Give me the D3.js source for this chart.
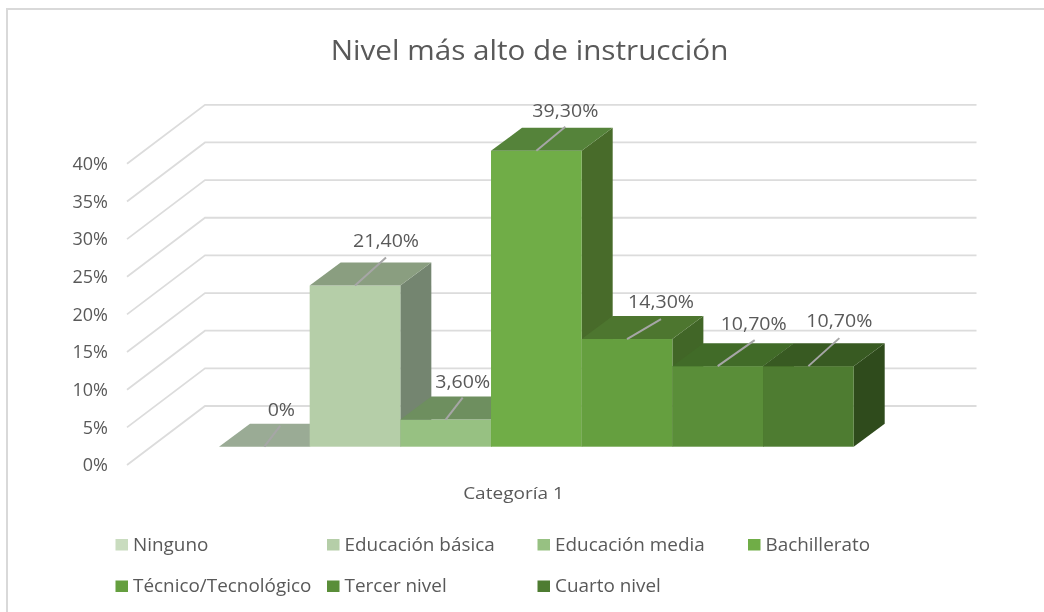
<!DOCTYPE html>
<html><head><meta charset="utf-8">
<script src="https://cdn.jsdelivr.net/npm/d3@7/dist/d3.min.js"></script>
<style>html,body{margin:0;padding:0;background:#fff}svg{display:block;filter:blur(0.35px)}
text{font-family:"Open Sans","Noto Sans",sans-serif;fill:#595959}</style>
</head><body><svg id="c" width="1044" height="612"></svg>
<script>
const title = "Nivel más alto de instrucción";
const category = "Categoría 1";
const series = ["Ninguno","Educación básica","Educación media","Bachillerato","Técnico/Tecnológico","Tercer nivel","Cuarto nivel"];
const values = [0,21.4,3.6,39.3,14.3,10.7,10.7];
const valueLabels = ["0%","21,40%","3,60%","39,30%","14,30%","10,70%","10,70%"];
const yTicks = [0,5,10,15,20,25,30,35,40];
const frontColors = ["#c9dcbf","#b5cea8","#97c182","#70ad47","#659f3f","#5a8e39","#4e7c31"];
const topColors = ["#9aab95","#8a9e80","#6e8f5f","#55833a","#4d762f","#416b28","#385a22"];
const sideColors = ["#748570","#748570","#4f6f3a","#486b2a","#416627","#35591f","#2f4b1c"];

// layout constants
const depth = {dx:31, dy:-23};
const wall = {frontX:127, backX:205, frontDy:18.3, backDy:-40.7, right:976.5};
const labelPos = [[16,-21,17,-37],[31,-28,31,-45],[17,-22,17,-38],[29,-24,29,-40],[34,-20,34,-37],[37,-26,36,-42],[31,-28,31,-45]];
const legendX = [115.5,327,537.5,748,115.5,327,537.5];
const legendY = [544.5,544.5,544.5,544.5,586,586,586];

const svg = d3.select("#c");
const x = d3.scaleBand().domain(series).range([219,853.7]).padding(0);
const y = d3.scaleLinear().domain([0,40]).range([446.7,145.5]);

// frame
svg.append("path").attr("d","M7,612V9H1044").attr("fill","none").attr("stroke","#d9d9d9").attr("stroke-width",2);

const place = (sel,px,py,sx,anchor,size)=>sel.attr("transform",`translate(${px},${py}) scale(${sx},1)`).attr("text-anchor",anchor).attr("font-size",size);

// title
place(svg.append("text").text(title),529.5,60,1.06,"middle",28);

// walls
const gw = svg.append("g");
gw.selectAll("path").data(yTicks).join("path")
  .attr("d",v=>`M${wall.frontX},${y(v)+wall.frontDy}L${wall.backX},${y(v)+wall.backDy}H${wall.right}`)
  .attr("fill","none").attr("stroke","#dcdcdc").attr("stroke-width",1.8);

// y axis
const axis = d3.axisLeft(y).tickValues(yTicks).tickSize(0).tickPadding(0).tickFormat(d=>d+"%");
const ga = svg.append("g").attr("transform",`translate(108,${wall.frontDy})`).call(axis);
ga.select(".domain").remove();
ga.selectAll("text").attr("font-size",18).attr("font-family",'"Open Sans"').style("fill","#595959");

// bars, painted left to right
const bars = svg.append("g").selectAll("g").data(series).join("g");
bars.each(function(s,i){
  const g = d3.select(this), x0=x(s), x1=x0+x.bandwidth(), y0=y(0), yt=y(values[i]);
  const d=depth;
  if(values[i]>0){
    g.append("path").attr("fill",sideColors[i]).attr("d",`M${x1},${yt}l${d.dx},${d.dy}V${y0+d.dy}L${x1},${y0}Z`);
    g.append("rect").attr("x",x0).attr("y",yt).attr("width",x.bandwidth()).attr("height",y0-yt).attr("fill",frontColors[i]);
  }
  g.append("path").attr("fill",topColors[i]).attr("d",`M${x0},${yt}l${d.dx},${d.dy}H${x1+d.dx}L${x1},${yt}Z`);
});

// leaders and value labels
const lab = svg.append("g");
series.forEach((s,i)=>{
  const cx=x(s)+x.bandwidth()/2, yt=y(values[i]), p=labelPos[i];
  lab.append("line").attr("x1",cx).attr("y1",yt).attr("x2",cx+p[0]).attr("y2",yt+p[1]).attr("stroke","#a6a6a6").attr("stroke-width",2);
  place(lab.append("text").text(valueLabels[i]),cx+p[2],yt+p[3]+6,1.12,"middle",17.5);
});

// category
place(svg.append("text").text(category),513.5,499,1.12,"middle",17);

// legend
const lg = svg.append("g").selectAll("g").data(series).join("g").attr("transform",(s,i)=>`translate(${legendX[i]},${legendY[i]})`);
lg.append("rect").attr("x",0).attr("y",-5.5).attr("width",12.5).attr("height",11.5).attr("fill",(s,i)=>frontColors[i]);
place(lg.append("text").text(s=>s),17.5,6,1.08,"start",17.5);
</script></body></html>
